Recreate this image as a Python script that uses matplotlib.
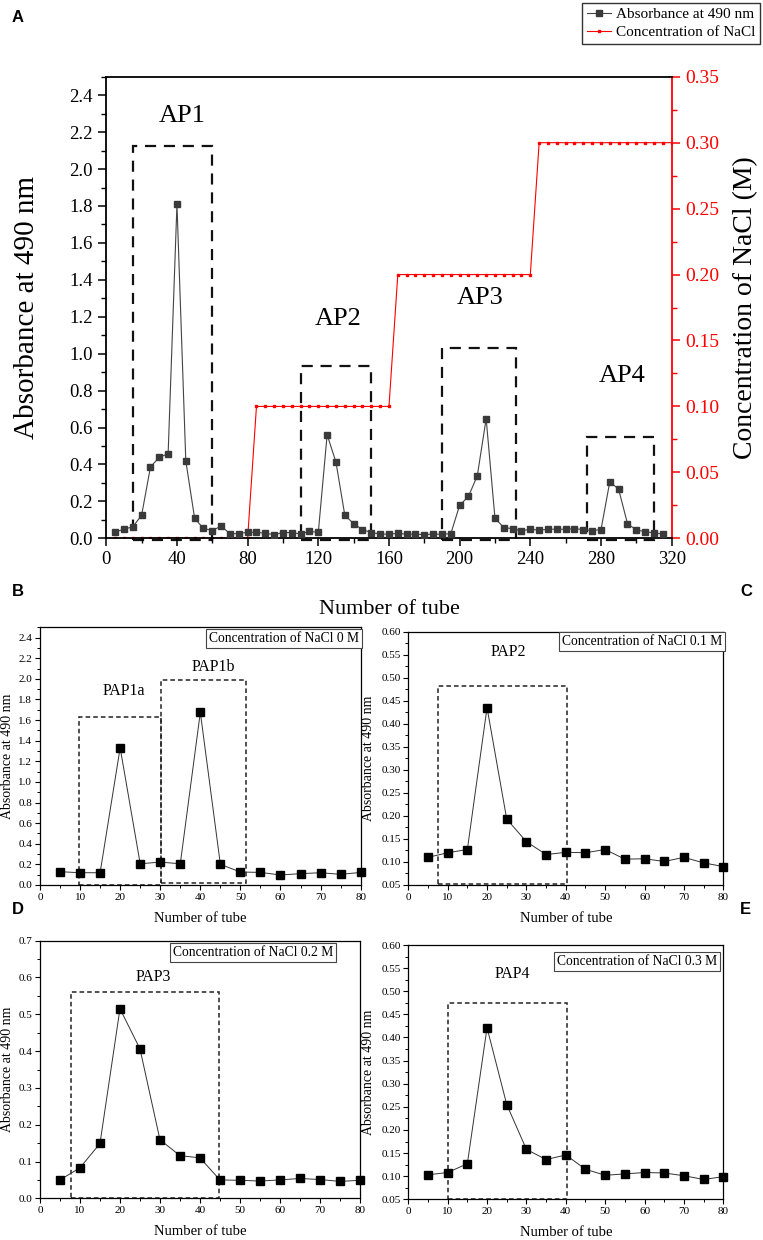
import matplotlib
matplotlib.use("Agg")
import matplotlib.pyplot as plt
from matplotlib.patches import Rectangle
from matplotlib.ticker import MultipleLocator
from matplotlib.lines import Line2D

plt.rcParams["font.family"] = ["Liberation Serif", "DejaVu Serif"]
plt.rcParams["xtick.direction"] = "out"
plt.rcParams["ytick.direction"] = "out"

# Panel A: whole elution profile
tube_a = [5, 10, 15, 20, 25, 30, 35, 40, 45, 50, 55, 60, 65, 70, 75, 80,
          85, 90, 95, 100, 105, 110, 115, 120, 125, 130, 135, 140, 145, 150,
          155, 160, 165, 170, 175, 180, 185, 190, 195, 200, 205, 210, 215,
          220, 225, 230, 235, 240, 245, 250, 255, 260, 265, 270, 275, 280,
          285, 290, 295, 300, 305, 310, 315]
abs_a = [0.034, 0.049, 0.062, 0.125, 0.386, 0.439, 0.458, 1.81, 0.42, 0.108,
         0.053, 0.042, 0.066, 0.025, 0.025, 0.033, 0.032, 0.027, 0.020, 0.031,
         0.031, 0.023, 0.038, 0.032, 0.561, 0.412, 0.125, 0.079, 0.047, 0.031,
         0.023, 0.022, 0.027, 0.022, 0.022, 0.020, 0.022, 0.022, 0.025, 0.179,
         0.227, 0.339, 0.648, 0.108, 0.058, 0.052, 0.040, 0.050, 0.043, 0.049,
         0.049, 0.049, 0.052, 0.047, 0.042, 0.047, 0.307, 0.265, 0.079, 0.045,
         0.036, 0.029, 0.023]
tube_nacl = [5, 10, 15, 20, 25, 30, 35, 40, 45, 50, 55, 60, 65, 70, 75, 80,
             85, 90, 95, 100, 105, 110, 115, 120, 125, 130, 135, 140, 145, 150, 155, 160,
             165, 170, 175, 180, 185, 190, 195, 200, 205, 210, 215, 220, 225, 230, 235, 240,
             245, 250, 255, 260, 265, 270, 275, 280, 285, 290, 295, 300, 305, 310, 315, 320]
nacl = [0.0, 0.0, 0.0, 0.0, 0.0, 0.0, 0.0, 0.0, 0.0, 0.0, 0.0, 0.0, 0.0, 0.0, 0.0, 0.0,
        0.1, 0.1, 0.1, 0.1, 0.1, 0.1, 0.1, 0.1, 0.1, 0.1, 0.1, 0.1, 0.1, 0.1, 0.1, 0.1,
        0.2, 0.2, 0.2, 0.2, 0.2, 0.2, 0.2, 0.2, 0.2, 0.2, 0.2, 0.2, 0.2, 0.2, 0.2, 0.2,
        0.3, 0.3, 0.3, 0.3, 0.3, 0.3, 0.3, 0.3, 0.3, 0.3, 0.3, 0.3, 0.3, 0.3, 0.3, 0.3]
peaks_a = ["AP1", "AP2", "AP3", "AP4"]
boxes_a = [(15, 60, 2.125), (110, 150, 0.935), (190, 232, 1.03), (272, 310, 0.55)]
label_xy_a = [(43, 2.29), (131.5, 1.19), (211.5, 1.30), (292, 0.88)]

# Panels B-E: re-chromatography of each fraction
tube_sub = [5, 10, 15, 20, 25, 30, 35, 40, 45, 50, 55, 60, 65, 70, 75, 80]
abs_b = [0.129, 0.119, 0.119, 1.331, 0.206, 0.222, 0.206, 1.675, 0.200, 0.126,
         0.122, 0.097, 0.110, 0.119, 0.103, 0.122]
abs_c = [0.110, 0.120, 0.127, 0.435, 0.193, 0.144, 0.116, 0.121, 0.120, 0.127,
         0.106, 0.107, 0.101, 0.110, 0.098, 0.090]
abs_d = [0.050, 0.083, 0.149, 0.515, 0.406, 0.159, 0.116, 0.110, 0.050, 0.049,
         0.047, 0.050, 0.054, 0.051, 0.046, 0.049]
abs_e = [0.103, 0.108, 0.127, 0.421, 0.255, 0.158, 0.136, 0.146, 0.115, 0.102,
         0.105, 0.108, 0.107, 0.101, 0.093, 0.099]

fig = plt.figure(figsize=(7.63, 12.4), dpi=100)

# ---------- Panel A ----------
ax = fig.add_axes([0.1393, 0.5659, 0.7410, 0.3722])
ax2 = ax.twinx()
ax.plot(tube_a, abs_a, color="#444444", lw=0.8, marker="s", ms=4.3,
        mfc="#3a3a3a", mec="#3a3a3a", zorder=3)
ax2.plot(tube_nacl, nacl, color="red", lw=0.8, marker="s", ms=1.6,
         mfc="red", mec="red", zorder=2)
ax.set_zorder(ax2.get_zorder() + 1)
ax.patch.set_visible(False)

for (x0, x1, top), name, (tx, ty) in zip(boxes_a, peaks_a, label_xy_a):
    ax.add_patch(Rectangle((x0, -0.012), x1 - x0, top + 0.012, fill=False,
                           ec="#111111", lw=1.6, ls=(0, (5, 3.5)), clip_on=False))
    ax.text(tx, ty, name, fontsize=19, ha="center", va="center")

ax.set_xlim(0, 320)
ax.set_ylim(0, 2.5)
ax2.set_ylim(0, 0.35)
ax.xaxis.set_major_locator(MultipleLocator(40))
ax.xaxis.set_minor_locator(MultipleLocator(20))
ax.yaxis.set_major_locator(MultipleLocator(0.2))
ax.yaxis.set_minor_locator(MultipleLocator(0.1))
ax.yaxis.set_major_formatter(matplotlib.ticker.FormatStrFormatter("%.1f"))
ax2.yaxis.set_major_locator(MultipleLocator(0.05))
ax2.yaxis.set_minor_locator(MultipleLocator(0.025))
ax2.yaxis.set_major_formatter(matplotlib.ticker.FormatStrFormatter("%.2f"))
ax.tick_params(which="major", length=6, width=1.1, labelsize=13.5)
ax.tick_params(which="minor", length=3.5, width=1.0)
ax2.tick_params(which="major", length=6, width=1.1, labelsize=14, colors="red")
ax2.tick_params(which="minor", length=3.5, width=1.0, colors="red")
for s in ("left", "bottom", "top"):
    ax.spines[s].set_linewidth(1.3)
ax.spines["right"].set_visible(False)
for s in ("left", "bottom", "top"):
    ax2.spines[s].set_visible(False)
ax2.spines["right"].set_color("red")
ax2.spines["right"].set_linewidth(1.3)

ax.set_ylabel("Absorbance at 490 nm", fontsize=21)
ax.yaxis.set_label_coords(-0.117, 0.5)
ax2.set_ylabel("Concentration of NaCl (M)", fontsize=20)
ax2.yaxis.set_label_coords(1.108, 0.5)
ax.set_xlabel("Number of tube", fontsize=16)
ax.xaxis.set_label_coords(0.5, -0.134)

handles = [
    Line2D([], [], color="#444444", lw=0.8, marker="s", ms=4, mfc="#3a3a3a", mec="#3a3a3a"),
    Line2D([], [], color="red", lw=0.8, marker="s", ms=1.6, mfc="red", mec="red"),
]
fig.legend(handles, ["Absorbance at 490 nm", "Concentration of NaCl"],
           loc="upper right", bbox_to_anchor=(0.998, 0.999), fontsize=11,
           frameon=True, fancybox=False, edgecolor="#333333", framealpha=1,
           handlelength=1.6, handletextpad=0.3, borderpad=0.3, labelspacing=0.3,
           borderaxespad=0.1)

# ---------- Panels B-E ----------
sub_specs = [
    ([0.0524, 0.2863, 0.4203, 0.2078], abs_b, (0, 2.5), 0.2, 0.1, "%.1f",
     [(9.7, 30.2, 0.0, 1.627), (30.2, 51.4, 0.016, 1.99)],
     [("PAP1a", 20.8, 1.80), ("PAP1b", 43.2, 2.04)],
     "Concentration of NaCl 0 M", (0.996, 0.982)),
    ([0.5351, 0.2863, 0.4129, 0.2043], abs_c, (0.05, 0.60), 0.05, 0.025, "%.2f",
     [(7.45, 40.4, 0.052, 0.481)],
     [("PAP2", 25.4, 0.538)],
     "Concentration of NaCl 0.1 M", (0.996, 0.985)),
    ([0.0524, 0.0336, 0.4194, 0.2078], abs_d, (0, 0.7), 0.1, 0.05, "%.1f",
     [(7.67, 44.8, 0.002, 0.561)],
     [("PAP3", 28.3, 0.58)],
     "Concentration of NaCl 0.2 M", (0.917, 0.978)),
    ([0.5351, 0.0328, 0.4129, 0.2051], abs_e, (0.05, 0.60), 0.05, 0.025, "%.2f",
     [(10.0, 40.2, 0.05, 0.475)],
     [("PAP4", 26.4, 0.52)],
     "Concentration of NaCl 0.3 M", (0.981, 0.962)),
]

for rect, vals, ylim, major, minor, fmt, boxes, labels, note, note_xy in sub_specs:
    a = fig.add_axes(rect)
    a.plot(tube_sub, vals, color="#333333", lw=0.7, marker="s", ms=5.5,
           mfc="black", mec="black", clip_on=False, zorder=3)
    for x0, x1, y0, y1 in boxes:
        a.add_patch(Rectangle((x0, y0), x1 - x0, y1 - y0, fill=False,
                              ec="#222222", lw=1.1, ls=(0, (3, 2)), zorder=2))
    for txt, tx, ty in labels:
        a.text(tx, ty, txt, fontsize=11.5, ha="center", va="bottom")
    a.text(note_xy[0], note_xy[1], note, transform=a.transAxes, fontsize=9.8,
           ha="right", va="top",
           bbox=dict(boxstyle="square,pad=0.22", fc="white", ec="#444444", lw=0.8))
    a.set_xlim(0, 80)
    a.set_ylim(*ylim)
    a.xaxis.set_major_locator(MultipleLocator(10))
    a.xaxis.set_minor_locator(MultipleLocator(5))
    a.yaxis.set_major_locator(MultipleLocator(major))
    a.yaxis.set_minor_locator(MultipleLocator(minor))
    a.yaxis.set_major_formatter(matplotlib.ticker.FormatStrFormatter(fmt))
    a.tick_params(which="major", length=3.5, width=0.8, labelsize=8, pad=2)
    a.tick_params(which="minor", length=2, width=0.7)
    for s in a.spines.values():
        s.set_linewidth(0.9)
    a.set_ylabel("Absorbance at 490 nm", fontsize=10)
    a.set_xlabel("Number of tube", fontsize=10.5)
    if rect[0] < 0.3:
        a.yaxis.set_label_coords(-0.08, 0.5)
    else:
        a.yaxis.set_label_coords(-0.105, 0.5)
    a.xaxis.set_label_coords(0.5, -0.105)

# panel letters
for letter, x, y in [("A", 12, 18), ("B", 12, 592), ("C", 740, 592),
                     ("D", 12, 910), ("E", 740, 910)]:
    fig.text(x / 763, 1 - y / 1240, letter, fontsize=12, fontweight="bold",
             family=["Liberation Sans", "DejaVu Sans"], ha="left", va="center")

fig.savefig("out.png", dpi=100)
